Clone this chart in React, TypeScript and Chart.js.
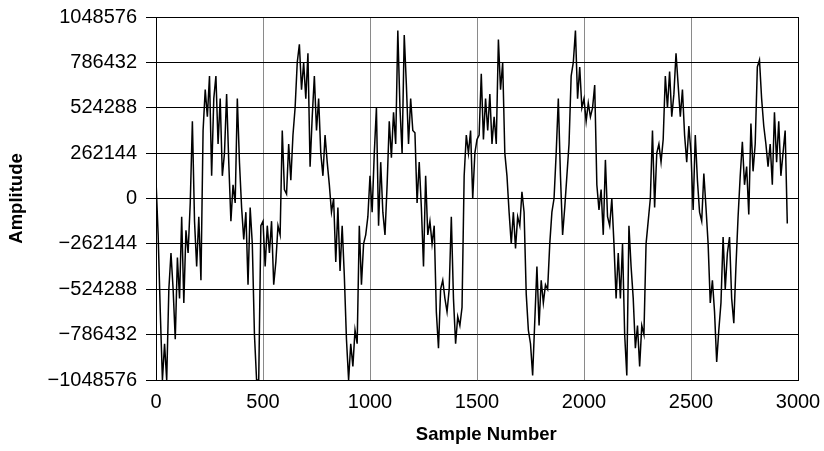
import React, { useEffect, useRef } from "react";
import { Chart, registerables } from "chart.js";

Chart.register(...registerables);

const sampleStep = 10;

// Amplitude, one value every 10 samples (0 … 2950)
const amplitude = [
  105000, -210000, -655000, -1048576, -839000, -1048576, -524000, -315000, -524000, -813000,
  -341000, -577000, -105000, -603000, -184000, -315000, -26000, 446000, -131000, -393000,
  -105000, -472000, 393000, 629000, 472000, 708000, 131000, 577000, 708000, 315000,
  577000, 131000, 262000, 603000, 210000, -131000, 79000, -26000, 577000, 210000,
  -52000, -236000, -79000, -498000, -52000, -262000, -786000, -1048576, -1048576, -157000,
  -131000, -393000, -157000, -315000, -131000, -498000, -367000, -157000, -210000, 393000,
  52000, 26000, 315000, 105000, 367000, 524000, 786000, 891000, 629000, 786000,
  577000, 839000, 184000, 472000, 708000, 393000, 577000, 262000, 131000, 367000,
  210000, 79000, -79000, 0, -367000, -52000, -419000, -157000, -446000, -813000,
  -1048576, -839000, -970000, -760000, -839000, -157000, -498000, -262000, -210000, -105000,
  131000, -79000, 262000, 524000, -157000, 210000, -79000, -210000, 79000, 446000,
  236000, 498000, 315000, 970000, 524000, 262000, 944000, 655000, 315000, 577000,
  393000, 380000, -26000, 210000, -52000, -393000, 131000, -210000, -131000, -262000,
  -157000, -655000, -865000, -524000, -472000, -577000, -655000, -524000, -105000, -577000,
  -839000, -682000, -734000, -629000, 131000, 367000, 262000, 393000, 0, 262000,
  341000, 367000, 721000, 341000, 577000, 393000, 603000, 315000, 472000, 315000,
  918000, 629000, 786000, 262000, 131000, -79000, -262000, -79000, -288000, -105000,
  -157000, 39000, -79000, -551000, -760000, -839000, -1022000, -708000, -393000, -734000,
  -472000, -603000, -498000, -524000, -262000, -79000, 0, 262000, 577000, 131000,
  -210000, -52000, 131000, 315000, 708000, 786000, 970000, 577000, 760000, 524000,
  577000, 446000, 551000, 472000, 524000, 655000, 79000, -66000, 52000, -210000,
  223000, -105000, -157000, 0, -262000, -577000, -315000, -577000, -262000, -786000,
  -1022000, -157000, -393000, -577000, -865000, -734000, -970000, -734000, -786000, -262000,
  -131000, 0, 393000, -52000, 262000, 315000, 210000, 341000, 708000, 524000,
  734000, 472000, 603000, 839000, 655000, 472000, 629000, 367000, 210000, 419000,
  262000, -66000, 367000, 105000, -79000, -131000, 144000, -52000, -262000, -603000,
  -472000, -655000, -944000, -760000, -603000, -223000, -524000, -315000, -223000, -577000,
  -721000, -393000, -105000, 131000, 328000, 79000, 184000, -92000, 433000, 157000,
  315000, 760000, 800000, 577000, 419000, 315000, 184000, 315000, 79000, 498000,
  210000, 446000, 131000, 262000, 393000, -144000,
];

const xTickValues = [0, 500, 1000, 1500, 2000, 2500, 3000];
const yTickValues = [-1048576, -786432, -524288, -262144, 0, 262144, 524288, 786432, 1048576];
const yTickLabels = [
  "\u22121048576", "\u2212786432", "\u2212524288", "\u2212262144", "0",
  "262144", "524288", "786432", "1048576",
];

const FAMILY = "'Liberation Sans', Arial, Helvetica, sans-serif";

export default function App() {
  const ref = useRef<HTMLCanvasElement>(null);

  useEffect(() => {
    if (!ref.current) return;
    const points = amplitude.map((v, i) => ({ x: i * sampleStep, y: v }));
    const chart = new Chart(ref.current, {
      type: "line",
      data: {
        datasets: [
          {
            data: points,
            borderColor: "#000",
            borderWidth: 1.5,
            pointRadius: 0,
            tension: 0,
            fill: false,
          },
        ],
      },
      options: {
        animation: false,
        responsive: false,
        devicePixelRatio: 1,
        layout: { padding: { top: 17, right: 26, left: 0, bottom: 0 } },
        plugins: { legend: { display: false }, tooltip: { enabled: false } },
        scales: {
          x: {
            type: "linear",
            min: 0,
            max: 3000,
            afterBuildTicks: (s: any) => {
              s.ticks = xTickValues.map((v) => ({ value: v }));
            },
            afterFit: (s: any) => {
              s.height = 71;
              s.paddingLeft = 0;
              s.paddingRight = 0;
            },
            grid: {
              color: (ctx: any) =>
                ctx.tick && (ctx.tick.value === 0 || ctx.tick.value === 3000) ? "#000" : "#8a8a8a",
              lineWidth: 1,
              drawTicks: false,
            },
            border: { color: "#000", width: 1 },
            ticks: {
              color: "#000",
              font: { family: FAMILY, size: 20 },
              padding: 10,
              maxRotation: 0,
              autoSkip: false,
              callback: (v: any) => String(v),
            },
            title: {
              display: true,
              text: "\u2003Sample Number",
              color: "#000",
              font: { family: FAMILY, size: 18.5, weight: "bold" },
              padding: { top: 0, bottom: 5 },
            },
          },
          y: {
            type: "linear",
            min: -1048576,
            max: 1048576,
            afterBuildTicks: (s: any) => {
              s.ticks = yTickValues.map((v) => ({ value: v }));
            },
            afterFit: (s: any) => {
              s.width = 156;
              s.paddingTop = 0;
              s.paddingBottom = 0;
            },
            grid: { color: "#000", lineWidth: 1, tickLength: 10 },
            border: { color: "#000", width: 1 },
            ticks: {
              color: "#000",
              font: { family: FAMILY, size: 20 },
              padding: 9,
              autoSkip: false,
              callback: (_v: any, i: number) => yTickLabels[i],
            },
            title: {
              display: true,
              text: "Amplitude",
              color: "#000",
              font: { family: FAMILY, size: 18.5, weight: "bold" },
              padding: { top: 6, bottom: 0 },
            },
          },
        },
      },
    });
    return () => chart.destroy();
  }, []);

  return (
    <div style={{ position: "fixed", left: 0, top: 0, width: 824, height: 451, background: "#fff" }}>
      <canvas ref={ref} width={824} height={451} style={{ display: "block" }} />
    </div>
  );
}
